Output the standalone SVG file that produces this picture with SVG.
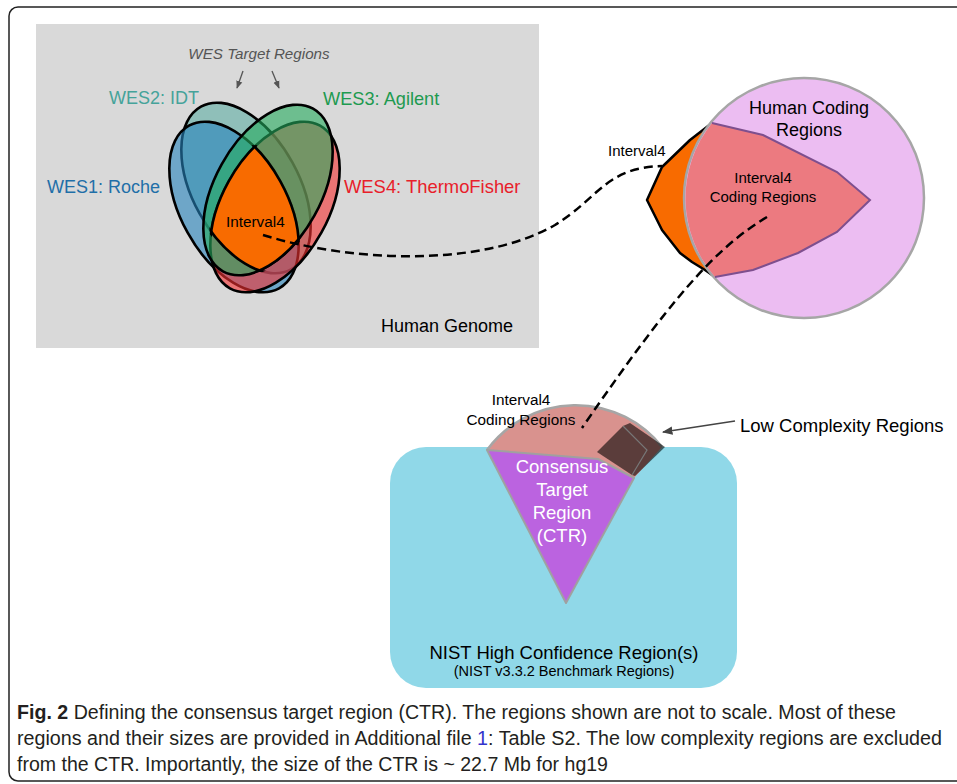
<svg xmlns="http://www.w3.org/2000/svg" xmlns:xlink="http://www.w3.org/1999/xlink" width="957" height="784" viewBox="0 0 957 784">
<style>
.t{font-family:"Liberation Sans",Arial,sans-serif;}
.el{stroke:#000;stroke-width:2.6;}
.dash{fill:none;stroke:#000;stroke-width:2.5;stroke-dasharray:9 5;}
.cap{font-family:"Liberation Sans",Arial,sans-serif;font-size:19.5px;fill:#231f20;}
</style>
<defs>
<ellipse id="e1" cx="0" cy="0" rx="53" ry="93" transform="translate(234 207) rotate(-29)"/>
<ellipse id="e2" cx="0" cy="0" rx="53" ry="93" transform="translate(246 188) rotate(-29)"/>
<ellipse id="e3" cx="0" cy="0" rx="53" ry="93" transform="translate(268 190) rotate(29)"/>
<ellipse id="e4" cx="0" cy="0" rx="53" ry="93" transform="translate(275 207) rotate(29)"/>
<clipPath id="c1"><use href="#e1"/></clipPath>
<clipPath id="c2"><use href="#e2"/></clipPath>
<clipPath id="c3"><use href="#e3"/></clipPath>
<clipPath id="c4"><use href="#e4"/></clipPath>
<filter id="dil" x="-20%" y="-20%" width="140%" height="140%"><feMorphology operator="dilate" radius="2"/></filter>
<mask id="om" maskUnits="userSpaceOnUse" x="0" y="0" width="957" height="784">
<g filter="url(#dil)"><g clip-path="url(#c1)"><g clip-path="url(#c2)"><g clip-path="url(#c3)"><rect clip-path="url(#c4)" x="140" y="80" width="240" height="240" fill="#fff"/></g></g></g></g>
</mask>
<marker id="ag" viewBox="0 0 10 10" refX="9" refY="5" markerWidth="6" markerHeight="6" orient="auto"><path d="M0,1 L10,5 L0,9 Z" fill="#555"/></marker>
<marker id="ad" viewBox="0 0 10 10" refX="9" refY="5" markerWidth="7" markerHeight="7" orient="auto"><path d="M0,1 L10,5 L0,9 Z" fill="#444"/></marker>
</defs>

<rect id="frame" x="9" y="7" width="962" height="774" rx="9" fill="#fff" stroke="#222" stroke-width="1.5"/>

<g id="genome">
<rect x="36" y="24" width="503" height="324" fill="#d9d9d9"/>
<text class="t" x="513" y="332" font-size="18" text-anchor="end" fill="#000">Human Genome</text>
</g>

<g id="wes-label">
<text class="t" x="259" y="59" font-size="15.2" font-style="italic" text-anchor="middle" fill="#555">WES Target Regions</text>
<line x1="243" y1="71" x2="237" y2="88" stroke="#555" stroke-width="1.3" marker-end="url(#ag)"/>
<line x1="272" y1="71" x2="279" y2="88" stroke="#555" stroke-width="1.3" marker-end="url(#ag)"/>
</g>

<g id="wes2"><use href="#e2" class="el" fill="#5eaea4" fill-opacity="0.6"/><text class="t" x="109" y="104" font-size="18" fill="#45a39a">WES2: IDT</text></g>
<g id="wes1"><use href="#e1" class="el" fill="#2784bd" fill-opacity="0.6"/><text class="t" x="47" y="193" font-size="18" fill="#1f6fa8">WES1: Roche</text></g>
<g id="wes4"><use href="#e4" class="el" fill="#f53030" fill-opacity="0.6"/><text class="t" x="344" y="193" font-size="18.4" fill="#e8202a">WES4: ThermoFisher</text></g>
<g id="wes3"><use href="#e3" class="el" fill="#25ac5e" fill-opacity="0.6"/><text class="t" x="323" y="105" font-size="18.2" fill="#1e9a50">WES3: Agilent</text></g>

<g id="interval4">
<g clip-path="url(#c1)"><g clip-path="url(#c2)"><g clip-path="url(#c3)"><rect clip-path="url(#c4)" x="140" y="80" width="240" height="240" fill="#f86b00"/></g></g></g>
<g mask="url(#om)" fill="none" stroke="#000" stroke-width="2.6"><use href="#e1"/><use href="#e2"/><use href="#e3"/><use href="#e4"/></g>
<text class="t" x="226" y="227" font-size="15.3" fill="#000">Interval4</text>
</g>

<g id="interval4-right">
<polygon points="715,277 705,270 692,262 680,253 662,230 647,200 662,167 690,140 712,123 730,200" fill="#f86b00" stroke="#000" stroke-width="2.5" stroke-linejoin="round"/>
<text class="t" x="608" y="156" font-size="15" fill="#000">Interval4</text>
</g>

<g id="coding">
<circle cx="804" cy="198" r="120" fill="#ecbdf2" stroke="#a6a6a6" stroke-width="2.5"/>
<text class="t" x="809" y="114" font-size="18" text-anchor="middle" fill="#000">Human Coding</text>
<text class="t" x="809" y="136" font-size="18" text-anchor="middle" fill="#000">Regions</text>
</g>

<g id="interval4-coding">
<path d="M715,277 L753,270 L798,253 L837,232 L870,200 L837,172 L763,135 L712,123 A120,120 0 0 0 715,277 Z" fill="#ec7a80"/>
<polyline points="715,277 753,270 798,253 837,232 870,200 837,172 763,135 712,123" fill="none" stroke="#7e4f8e" stroke-width="2"/>
<text class="t" x="763" y="183" font-size="15" text-anchor="middle" fill="#000">Interval4</text>
<text class="t" x="763" y="202" font-size="15" text-anchor="middle" fill="#000">Coding Regions</text>
</g>

<g id="nist">
<rect x="390" y="447" width="347" height="241" rx="36" fill="#90d8e8"/>
<text class="t" x="564" y="659" font-size="18.5" text-anchor="middle" fill="#000">NIST High Confidence Region(s)</text>
<text class="t" x="564" y="676" font-size="14.5" text-anchor="middle" fill="#000">(NIST v3.3.2 Benchmark Regions)</text>
</g>

<g id="dome">
<path d="M487,450 A110,110 0 0 1 662,447 L634,478 L598,459 Z" fill="#d9928e"/>
<path d="M487,450 A110,110 0 0 1 662,447" fill="none" stroke="#a6a6a6" stroke-width="2.5"/>
<text class="t" x="521" y="405" font-size="15.3" text-anchor="middle" fill="#000">Interval4</text>
<text class="t" x="521" y="425" font-size="15.3" text-anchor="middle" fill="#000">Coding Regions</text>
</g>

<g id="ctr">
<polygon points="487,450 598,459 634,478 566,603" fill="#bb63e0" stroke="#a0a0a0" stroke-width="2" stroke-linejoin="round"/>
<text class="t" x="562" y="473" font-size="18.5" text-anchor="middle" fill="#fff">Consensus</text>
<text class="t" x="562" y="496" font-size="18.5" text-anchor="middle" fill="#fff">Target</text>
<text class="t" x="562" y="519" font-size="18.5" text-anchor="middle" fill="#fff">Region</text>
<text class="t" x="562" y="542" font-size="18.5" text-anchor="middle" fill="#fff">(CTR)</text>
</g>

<g id="low-complexity">
<polygon points="597,452 623,426 630,423 665,447 635,476 632,475" fill="#000" fill-opacity="0.58"/>
<polyline points="623,426 647,450 632,475" fill="none" stroke="#777" stroke-width="1.2"/>
<text class="t" x="740" y="432" font-size="18.5" fill="#000">Low Complexity Regions</text>
</g>

<g id="connectors">
<path class="dash" d="M263,235 C350,262 480,268 555,225 C600,197 605,168 662,166"/>
<path class="dash" d="M767,217 C715,248 670,300 582,428"/>
<line x1="735" y1="421" x2="663" y2="432" stroke="#444" stroke-width="1.5" marker-end="url(#ad)"/>
</g>

<g id="caption">
<text class="cap" x="17" y="719" textLength="879" lengthAdjust="spacingAndGlyphs"><tspan font-weight="bold">Fig. 2</tspan> Defining the consensus target region (CTR). The regions shown are not to scale. Most of these</text>
<text class="cap" x="17" y="745" textLength="925" lengthAdjust="spacingAndGlyphs">regions and their sizes are provided in Additional file <tspan fill="#3333cc">1</tspan>: Table S2. The low complexity regions are excluded</text>
<text class="cap" x="17" y="771" textLength="591" lengthAdjust="spacingAndGlyphs">from the CTR. Importantly, the size of the CTR is ~ 22.7 Mb for hg19</text>
</g>
</svg>
